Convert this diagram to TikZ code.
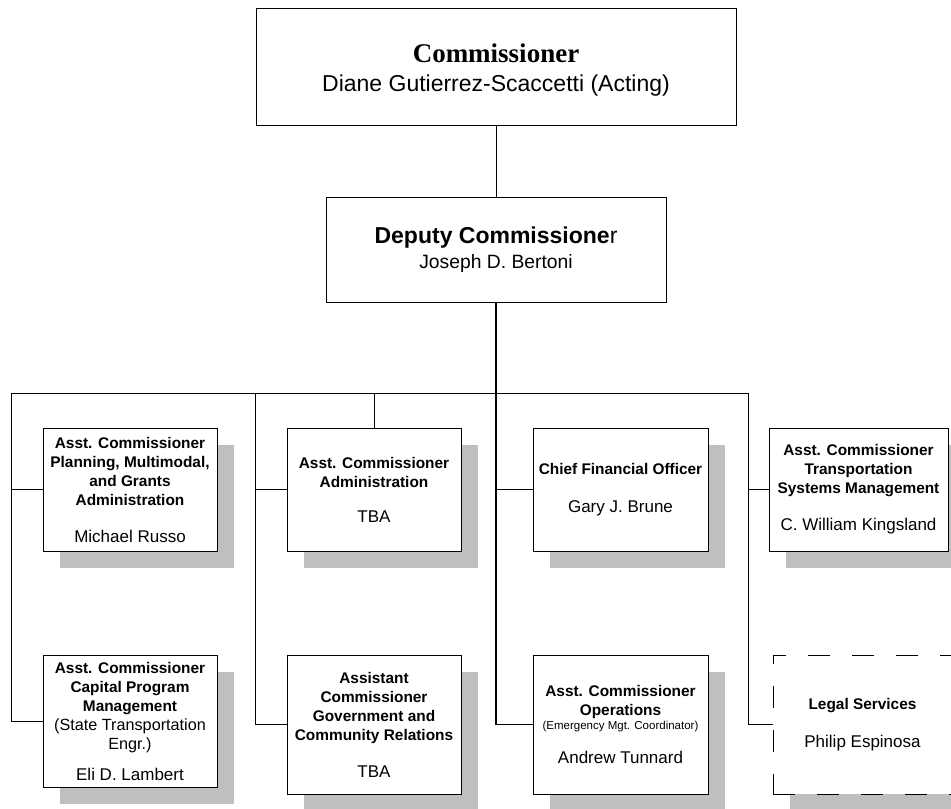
\documentclass[tikz,border=0pt]{standalone}
\usepackage{fontspec}
\setmainfont{Liberation Serif}
\setsansfont{Liberation Sans}
\usetikzlibrary{shadows}

\newcommand{\titlefont}{\sffamily\bfseries\fontsize{15.4}{19}\selectfont}
\newcommand{\person}[1]{{\sffamily\mdseries\fontsize{17}{19}\selectfont #1}}

\begin{document}
\begin{tikzpicture}[x=1pt, y=-1pt, line width=1pt,
       every node/.style={font=\sffamily},
       headbox/.style 2 args = {rectangle, draw, minimum width=#1, minimum height=#2,
                                inner sep=0pt, align=center},
       postbox/.style 2 args = {rectangle, draw, fill=white, minimum width=#1, minimum height=#2,
                                inner sep=0pt, align=center, font=\titlefont,
                                drop shadow={shadow xshift=17pt, shadow yshift=-17pt,
                                             fill=black!25, draw=none, opacity=1}},
       legalbox/.style = {dash pattern=on 22pt off 22pt}]
	\useasboundingbox (0,0) rectangle (951,809);

	%% Commissioner and deputy
	\node [headbox={480}{117}, font=\sffamily\fontsize{23}{29}\selectfont] (comm) at (496,66.5)
	      {{\rmfamily\bfseries\fontsize{27}{30}\selectfont\rule{0pt}{26pt}Commissioner}\\Diane Gutierrez-Scaccetti (Acting)};
	\node [headbox={340}{105}, font=\sffamily\fontsize{19.3}{25}\selectfont] (dep) at (496,249.5)
	      {{\bfseries\fontsize{23}{25}\selectfont Deputy Commissione}{\fontsize{23}{25}\selectfont r}\\Joseph D. Bertoni};

	%% Upper row
	\node [postbox={174}{123}] (plan) at (130,489.5)
	      {Asst. Commissioner\\Planning, Multimodal,\\and Grants\\Administration\\[18pt]\person{Michael Russo}};
	\node [postbox={174}{123}] (admin) at (374,489.5)
	      {Asst. Commissioner\\Administration\\[16pt]\person{TBA}};
	\node [postbox={175}{123}] (cfo) at (620.5,489.5)
	      {Chief Financial Officer\\[19pt]\person{Gary J. Brune}};
	\node [postbox={179}{123}] (tsm) at (858.5,489.5)
	      {Asst. Commissioner\\Transportation\\Systems Management\\[18pt]\person{C. William Kingsland}};

	%% Lower row
	\node [postbox={174}{132}] (cap) at (130,721)
	      {Asst. Commissioner\\Capital Program\\Management\\{\mdseries\fontsize{16.2}{19}\selectfont (State Transportation}\\{\mdseries\fontsize{16.2}{19}\selectfont Engr.)}\\[12pt]\person{Eli D. Lambert}};
	\node [postbox={174}{139}] (gov) at (374,724.5)
	      {Assistant\\Commissioner\\Government and\\Community Relations\\[18pt]\person{TBA}};
	\node [postbox={175}{139}] (ops) at (620.5,724.5)
	      {Asst. Commissioner\\Operations\\[-4.5pt]{\mdseries\fontsize{11.5}{14}\selectfont (Emergency Mgt. Coordinator)}\\[15pt]\person{Andrew Tunnard}};
	\node [postbox={179}{139}, legalbox] (legal) at (862.5,724.5)
	      {Legal Services\\[19pt]\person{Philip Espinosa}};

	%% Bus
	\coordinate (busL) at (11,393);
	\coordinate (busM) at (255,393);
	\coordinate (busR) at (748,393);

	%% Paths
	\draw (comm) -- (dep);
	\draw [line width=1.6pt] (dep) |- (ops);
	\draw (cap) -| (busL) -- (busR) |- (legal);
	\draw (busM) |- (gov);
	\draw (plan.west) -- (plan.west -| busL);
	\draw (admin.west) -- (admin.west -| busM);
	\draw (admin.north) -- (admin.north |- busM);
	\draw (cfo.west) -- (cfo.west -| dep.south);
	\draw (tsm.west) -- (tsm.west -| busR);
\end{tikzpicture}
\end{document}
